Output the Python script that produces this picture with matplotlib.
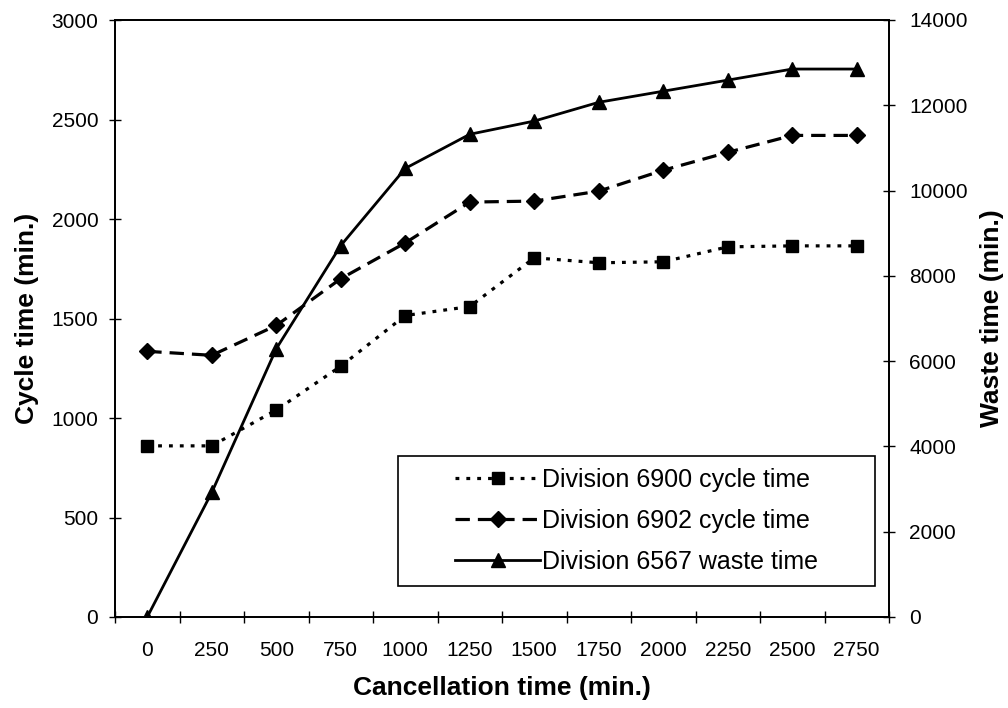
import matplotlib
matplotlib.use("Agg")
import matplotlib.pyplot as plt
from matplotlib.patches import Rectangle
import numpy as np

plt.rcParams['font.family'] = ['Liberation Sans', 'DejaVu Sans']

cancel_labels = ["0", "250", "500", "750", "1000", "1250", "1500",
                 "1750", "2000", "2250", "2500", "2750"]
div6900_cycle = [860, 860, 1040, 1260, 1515, 1560, 1805, 1780, 1785, 1860, 1865, 1865]
div6902_cycle = [1335, 1315, 1465, 1700, 1880, 2085, 2090, 2140, 2245, 2335, 2420, 2420]
div6567_waste = [0, 2920, 6290, 8710, 10520, 11320, 11630, 12070, 12330, 12590, 12850, 12850]

x = np.arange(len(cancel_labels))

W, H = 1008, 708
fig = plt.figure(figsize=(W / 100, H / 100), dpi=100)
ax = fig.add_axes([115 / W, 1 - 617 / H, (889 - 115) / W, (617 - 20) / H])
ax2 = ax.twinx()

l1, = ax.plot(x, div6900_cycle, color='black', lw=2.3, dashes=(1.2, 2.2),
              marker='s', markersize=9, label='Division 6900 cycle time')
l2, = ax.plot(x, div6902_cycle, color='black', lw=2.3, dashes=(4.5, 2.5),
              marker='D', markersize=8, label='Division 6902 cycle time')
l3, = ax2.plot(x, div6567_waste, color='black', lw=2.0, linestyle='-',
               marker='^', markersize=10, label='Division 6567 waste time')

ax.set_xlim(-0.5, len(x) - 0.5)
ax.set_ylim(0, 3000)
ax2.set_ylim(0, 14000)
ax.set_yticks(np.arange(0, 3001, 500))
ax2.set_yticks(np.arange(0, 14001, 2000))

ax.set_xticks(x)
ax.set_xticklabels(cancel_labels)
ax.set_xticks(np.arange(-0.5, len(x), 1), minor=True)
ax.tick_params(axis='x', which='major', length=0, labelsize=15, pad=17)
ax.tick_params(axis='x', which='minor', direction='inout', length=9, width=1)
ax.tick_params(axis='y', direction='inout', length=9, width=1, labelsize=15, pad=7.5)
ax2.tick_params(axis='y', direction='inout', length=9, width=1, labelsize=15, pad=10)

for a in (ax, ax2):
    for s in a.spines.values():
        s.set_linewidth(1.3)
        s.set_color('black')

ax.set_xlabel('Cancellation time (min.)', fontsize=19, fontweight='bold', labelpad=12)
ax.set_ylabel('Cycle time (min.)', fontsize=19, fontweight='bold', labelpad=9)
ax2.set_ylabel('Waste time (min.)', fontsize=19, fontweight='bold', labelpad=9)

# legend box drawn separately so it can be wider than its contents
lx0, lx1, ly0, ly1 = 398, 875, 456, 586
frame = Rectangle((lx0 / W, 1 - ly1 / H), (lx1 - lx0) / W, (ly1 - ly0) / H,
                  transform=fig.transFigure, facecolor='white',
                  edgecolor='black', lw=1.2, zorder=5)
fig.patches.append(frame)

leg = fig.legend(handles=[l1, l2, l3], loc='upper left',
                 bbox_to_anchor=(455 / W, 1 - 468 / H), fontsize=18,
                 frameon=False, handlelength=3.4, handletextpad=0.1,
                 borderpad=0, borderaxespad=0, labelspacing=0.68)
leg.set_zorder(6)

fig.savefig('out.png', dpi=100)
